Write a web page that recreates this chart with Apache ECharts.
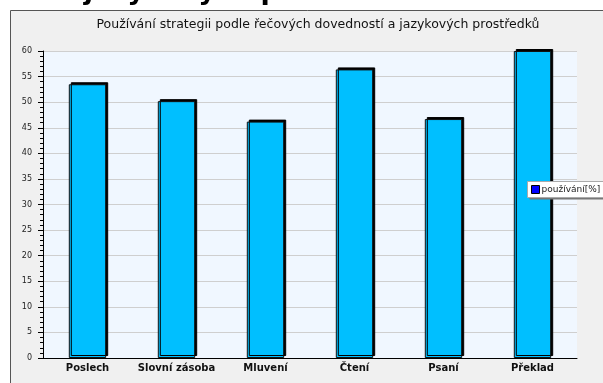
<!DOCTYPE html>
<html>
<head>
<meta charset="utf-8">
<script src="https://cdn.jsdelivr.net/npm/echarts@6/dist/echarts.min.js"></script>
<style>
  html, body { margin: 0; padding: 0; background: #fff; }
  #chart { width: 603px; height: 383px; }
</style>
</head>
<body>
<div id="chart"></div>
<script>
const chartDom = document.getElementById('chart');

const categories = ['Poslech', 'Slovní zásoba', 'Mluvení', 'Čtení', 'Psaní', 'Překlad'];
const usage = [53.5, 50.2, 46.2, 56.4, 46.7, 60];
const seriesName = 'používání[%]';
const chartTitle = 'Používání strategii podle řečových dovedností a jazykových prostředků';
const pageHeading = 'jazykových prostředků';

const myChart = echarts.init(chartDom);
let option;

option = {
  animation: false,
  backgroundColor: '#ffffff',
  textStyle: { fontFamily: 'DejaVu Sans' },
  graphic: [
    {
      // cut-off page heading above the chart frame
      type: 'text',
      left: 84,
      top: -22,
      z: 100,
      style: {
        text: pageHeading,
        fontSize: 27,
        fontWeight: 'bold',
        fontFamily: 'DejaVu Sans',
        fill: '#000'
      }
    },
    {
      type: 'rect',
      z: -10,
      shape: { x: 10.5, y: 10.5, width: 600, height: 380 },
      style: { fill: '#f0f0f0', stroke: '#555', lineWidth: 1 }
    },
    {
      // legend box shadow
      type: 'rect',
      z: 50,
      shape: { x: 529.5, y: 183.5, width: 80, height: 16 },
      style: { fill: '#777' }
    },
    {
      type: 'rect',
      z: 51,
      shape: { x: 527.5, y: 181.5, width: 80, height: 16 },
      style: { fill: '#fff', stroke: '#aaa', lineWidth: 1 }
    }
  ],
  title: {
    text: chartTitle,
    left: 313,
    textAlign: 'center',
    top: 13,
    textStyle: { fontSize: 12.5, fontWeight: 'normal', color: '#111', fontFamily: 'DejaVu Sans' }
  },
  legend: {
    left: 531,
    top: 185,
    z: 60,
    itemWidth: 8,
    itemHeight: 8,
    itemGap: 3,
    padding: 0,
    icon: 'rect',
    itemStyle: { borderColor: '#000', borderWidth: 1 },
    textStyle: { fontSize: 9, color: '#222', padding: [0, 0, 0, -3], fontFamily: 'DejaVu Sans' },
    data: [{ name: seriesName, itemStyle: { color: '#0000ff' } }]
  },
  grid: {
    left: 43,
    right: 26,
    top: 51,
    bottom: 25,
    show: true,
    backgroundColor: '#f0f7ff',
    borderWidth: 0
  },
  xAxis: {
    type: 'category',
    data: categories,
    axisLine: { lineStyle: { color: '#000', width: 1 } },
    axisTick: { inside: true, length: 4, lineStyle: { color: '#777' } },
    axisLabel: { interval: 0, fontSize: 10, fontWeight: 'bold', color: '#111', margin: 5, fontFamily: 'DejaVu Sans' }
  },
  yAxis: {
    type: 'value',
    min: 0,
    max: 60,
    interval: 5,
    axisLine: { show: true, lineStyle: { color: '#000', width: 1 } },
    axisTick: { show: true, length: 5, lineStyle: { color: '#000' } },
    minorTick: { show: true, splitNumber: 5, length: 3, lineStyle: { color: '#000' } },
    axisLabel: { fontSize: 8, color: '#222', margin: 11, fontFamily: 'DejaVu Sans' },
    splitLine: { lineStyle: { color: '#cfcfcf', width: 1 } }
  },
  series: [
    {
      name: seriesName,
      type: 'bar',
      data: usage,
      barWidth: '42%',
      itemStyle: {
        color: '#00bfff',
        borderColor: '#111',
        borderWidth: 1,
        shadowColor: '#000',
        shadowBlur: 0,
        shadowOffsetX: 2,
        shadowOffsetY: -2
      }
    }
  ]
};

option && myChart.setOption(option);
</script>
</body>
</html>
